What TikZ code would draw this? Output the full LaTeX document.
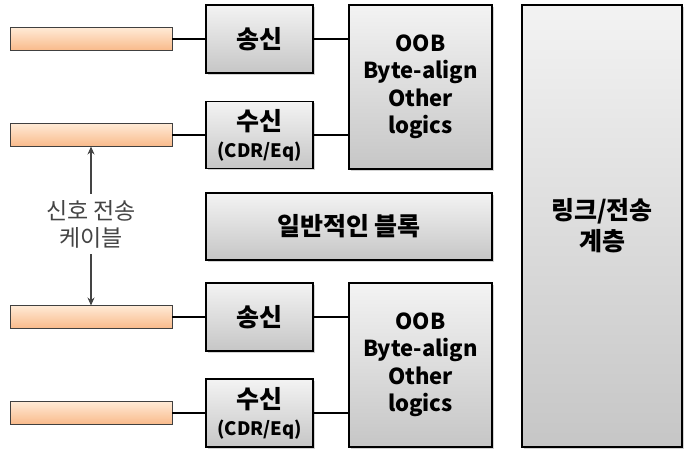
\documentclass[tikz,border=0pt]{standalone}
\usepackage{fontspec}
\setmainfont{Noto Sans CJK KR}
\usepackage{xcolor}
\usepackage{tikz}
\usetikzlibrary{arrows.meta, shadows}
\definecolor{boxtop}{RGB}{243,243,243}
\definecolor{boxbottom}{RGB}{198,198,198}
\definecolor{cabletop}{RGB}{255,234,214}
\definecolor{cablebottom}{RGB}{249,186,138}
\definecolor{labelgray}{RGB}{68,68,68}

\tikzset{
  block/.style={draw=black, line width=1.1pt, top color=boxtop, bottom color=boxbottom,
    inner sep=0pt, outer sep=0pt, align=center, font=\bfseries\fontsize{25}{31}\selectfont,
    drop shadow={shadow xshift=1.5pt, shadow yshift=-1.5pt, opacity=0.35}},
  logic/.style={block, minimum width=143pt, minimum height=164pt, font=\bfseries\fontsize{22}{27.5}\selectfont},
  cable/.style={draw=black!75, line width=0.8pt, top color=cabletop, bottom color=cablebottom,
    inner sep=0pt, outer sep=0pt, minimum width=162pt, minimum height=23pt},
  wire/.style={line width=2.6pt},
  sig/.style={line width=1.8pt, draw=labelgray, -{Stealth[length=8pt, width=7pt]}},
}
\newcommand{\cdreq}{{\fontsize{18.5}{20}\selectfont(CDR/Eq)}}

\begin{document}
\begin{tikzpicture}[x=1pt, y=-1pt]
    \useasboundingbox (0,0) rectangle (688,456);

    % Cables
    \node[cable] (cab1) at (91,39) {};
    \node[cable] (cab2) at (91,135) {};
    \node[cable] (cab3) at (91,317) {};
    \node[cable] (cab4) at (91,413) {};

    % Upper lane
    \node[block, minimum width=107pt, minimum height=68pt] (tx1) at (259.5,39) {송신};
    \node[block, minimum width=107pt, minimum height=67pt] (rx1) at (259.5,135) {수신\\[-4pt]\cdreq};
    \node[logic] (oob1) at (420.5,87) {OOB\\Byte-align\\Other\\logics};

    % Common block
    \node[block, minimum width=286pt, minimum height=67pt] (gen) at (349,226.5) {일반적인 블록};

    % Lower lane
    \node[block, minimum width=107pt, minimum height=68pt] (tx2) at (259.5,317) {송신};
    \node[block, minimum width=107pt, minimum height=68pt] (rx2) at (259.5,413) {수신\\[-4pt]\cdreq};
    \node[logic] (oob2) at (420.5,365) {OOB\\Byte-align\\Other\\logics};

    % Link layer
    \node[block, minimum width=160pt, minimum height=442pt] (link) at (602,226) {링크/전송\\계층};

    % Wires
    \draw[wire] (cab1) -- (tx1);
    \draw[wire] (cab2) -- (rx1);
    \draw[wire] (cab3) -- (tx2);
    \draw[wire] (cab4) -- (rx2);
    \draw[wire] (tx1.east) -- (tx1.east -| oob1.west);
    \draw[wire] (rx1.east) -- (rx1.east -| oob1.west);
    \draw[wire] (tx2.east) -- (tx2.east -| oob2.west);
    \draw[wire] (rx2.east) -- (rx2.east -| oob2.west);

    % Cable label
    \node[align=center, text=labelgray, font=\fontsize{23}{27}\selectfont, inner sep=6pt] (lbl) at (91,224) {신호 전송\\케이블};
    \draw[sig] (lbl) -- (cab2);
    \draw[sig] (lbl) -- (cab3);
\end{tikzpicture}
\end{document}
